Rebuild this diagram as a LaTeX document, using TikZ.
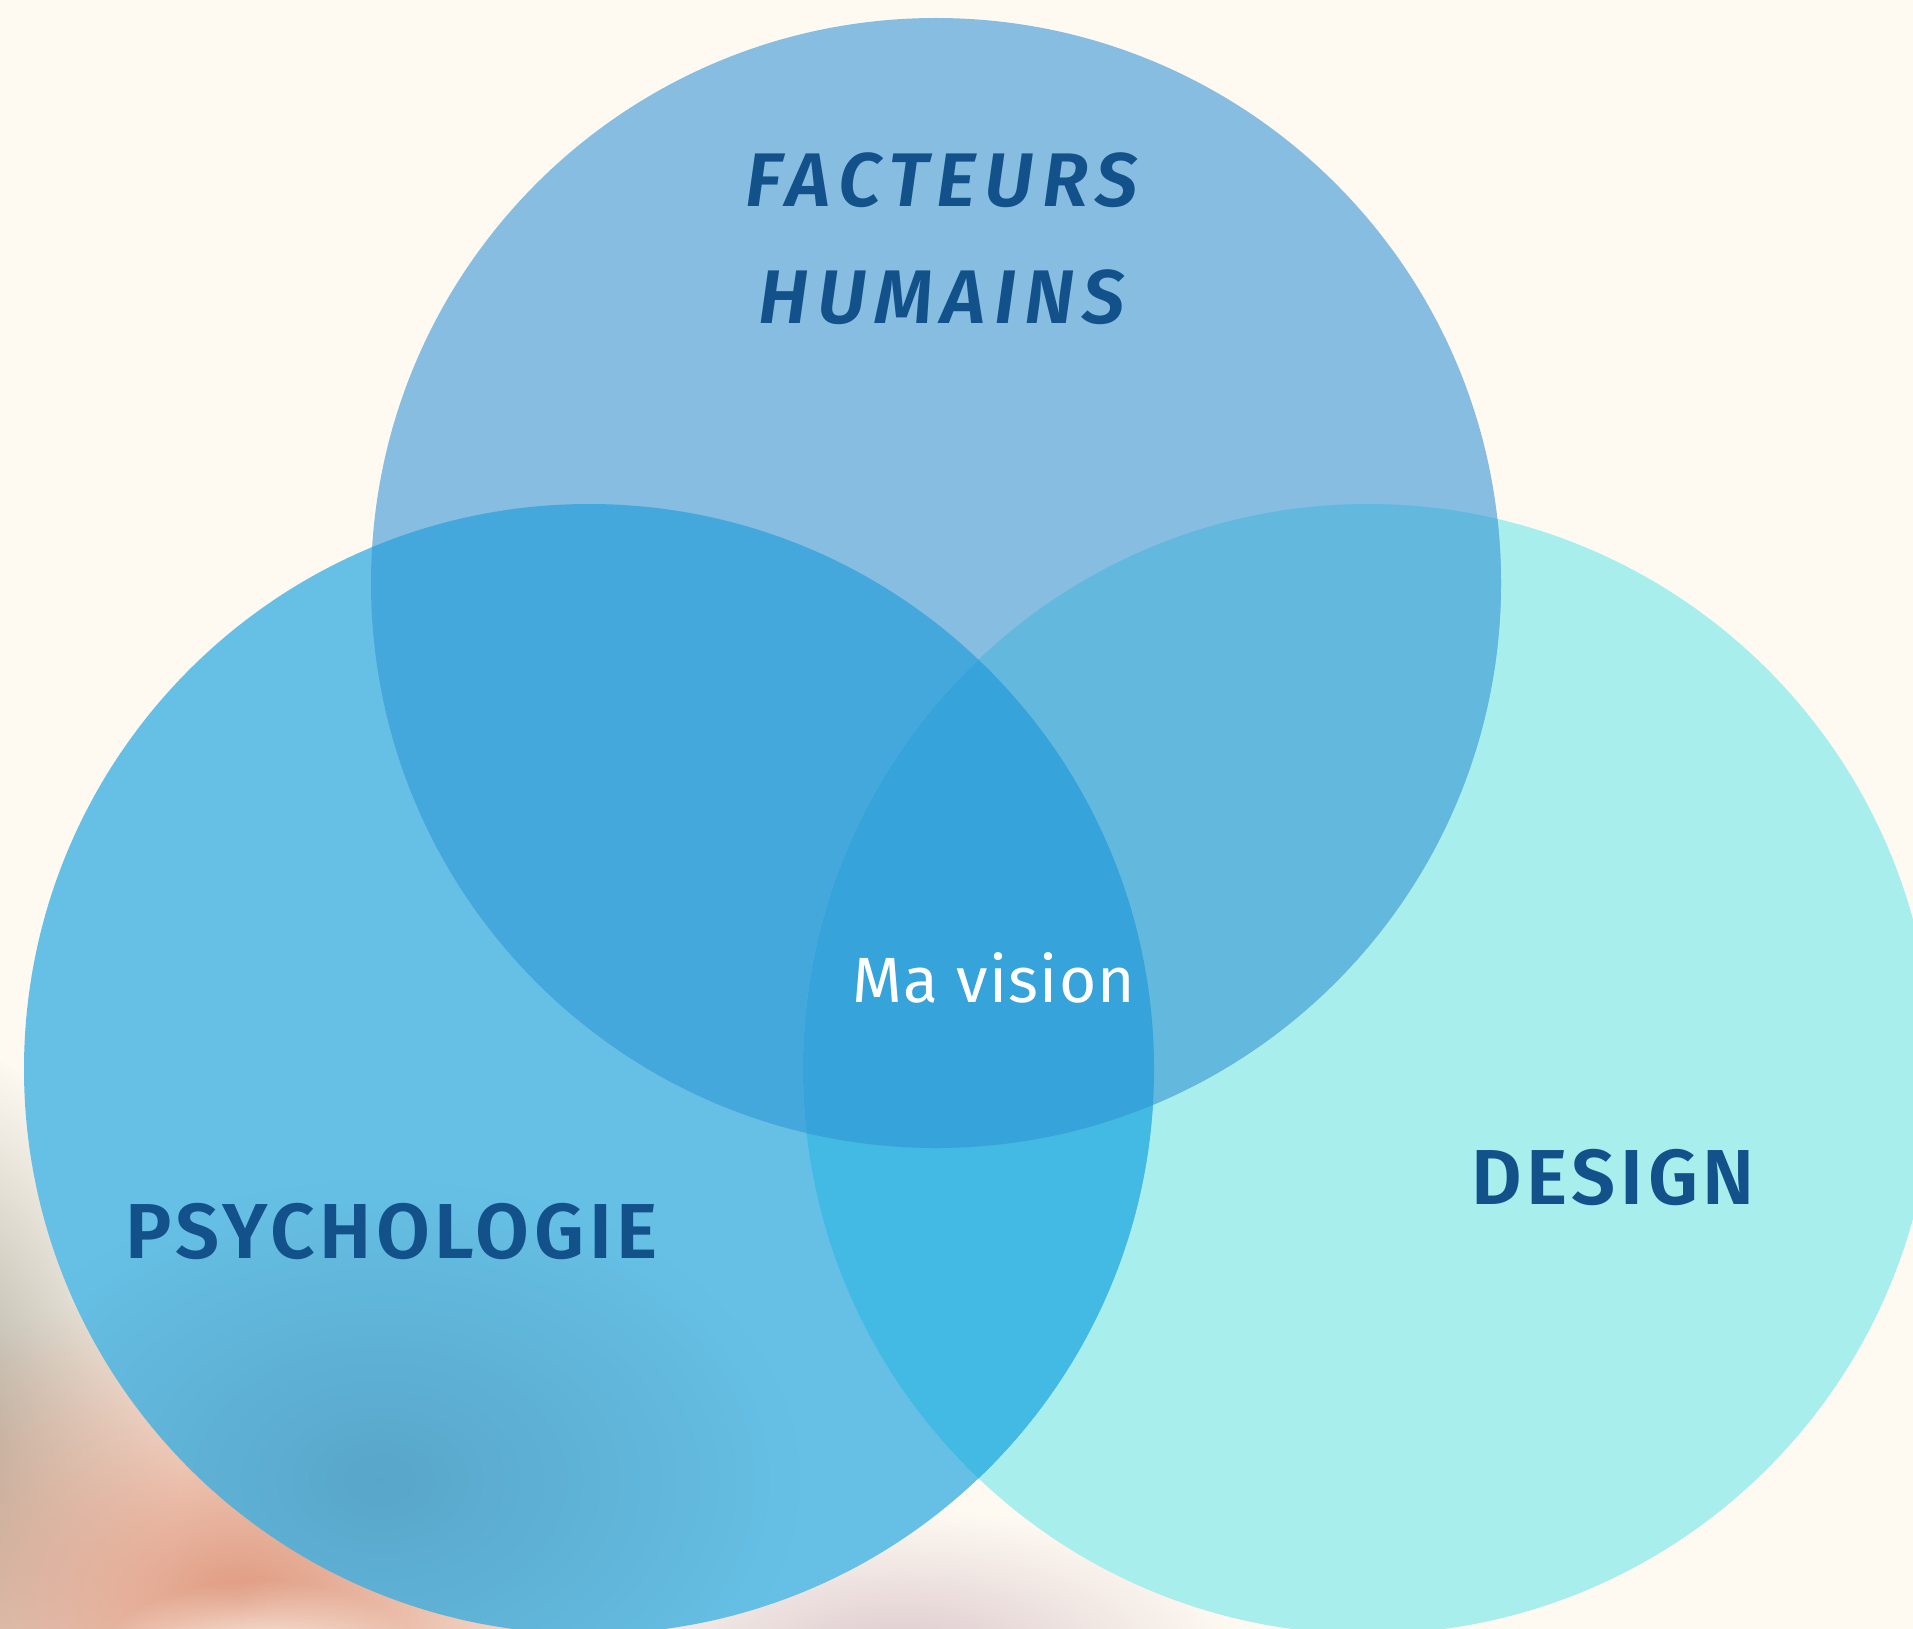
\documentclass[tikz,border=0pt]{standalone}
\usepackage{fontspec}
\setmainfont{Fira Sans}
\IfFontExistsTF{Fira Sans SemiBold}{%
  \newfontfamily\labelfont{Fira Sans}[UprightFont=* SemiBold, ItalicFont=* SemiBold Italic]}{%
  \newfontfamily\labelfont{Fira Sans}[UprightFont=* Bold, ItalicFont=* Bold Italic]}
\usetikzlibrary{fadings}

\definecolor{bgcream}{HTML}{FEFAF2}
\definecolor{humblue}{HTML}{87BDE1}
\definecolor{psyblue}{HTML}{66C0E5}
\definecolor{designcyan}{HTML}{A8EEEC}
\definecolor{psyhum}{HTML}{45A8DC}
\definecolor{humdesign}{HTML}{62B8DD}
\definecolor{psydesign}{HTML}{42BAE3}
\definecolor{allthree}{HTML}{36A3DA}
\definecolor{labelblue}{HTML}{13518A}
\definecolor{blobsalmon}{HTML}{E09A80}
\definecolor{blobgrey}{HTML}{A8A494}
\definecolor{blobpink}{HTML}{DCC8CC}
\definecolor{blobdark}{HTML}{4E92B4}

\tikzfading[name=softblob, inner color=transparent!0, outer color=transparent!100]

\tikzset{
  setlabel/.style={text=labelblue, inner sep=0pt, anchor=base,
    font=\labelfont\fontsize{78}{90}\selectfont\addfontfeatures{LetterSpace=6}},
  setlabelit/.style={setlabel, font=\labelfont\itshape\fontsize{76}{90}\selectfont\addfontfeatures{LetterSpace=11}},
  centrelabel/.style={text=white, inner sep=0pt, anchor=base,
    font=\fontsize{64}{76}\selectfont\addfontfeatures{LetterSpace=2}},
}

\def\humcircle{(936,583) circle [radius=565]}
\def\psycircle{(589,1069) circle [radius=565]}
\def\designcircle{(1368,1069) circle [radius=565]}

\begin{document}
\begin{tikzpicture}[x=1pt,y=-1pt]
\useasboundingbox (0,0) rectangle (1913,1629);
\fill[bgcream] (0,0) rectangle (1913,1629);

% blurred patch bottom left
\fill[blobgrey, path fading=softblob] (-80,1440) ellipse (260 and 400);
\fill[blobsalmon, path fading=softblob] (240,1600) ellipse (440 and 320);
\fill[blobpink, path fading=softblob] (900,1660) ellipse (340 and 150);
\fill[bgcream, path fading=softblob] (260,1670) ellipse (170 and 90);

% the three sets
\fill[designcyan] \designcircle;
\fill[psyblue] \psycircle;
\fill[humblue] \humcircle;

% overlaps
\begin{scope}
  \clip \psycircle;
  \fill[psydesign] \designcircle;
  \fill[blobdark, path fading=softblob, opacity=0.55] (380,1480) ellipse (420 and 300);
\end{scope}
\begin{scope}
  \clip \psycircle;
  \fill[psyhum] \humcircle;
\end{scope}
\begin{scope}
  \clip \designcircle;
  \fill[humdesign] \humcircle;
\end{scope}
\begin{scope}
  \clip \psycircle;
  \clip \designcircle;
  \fill[allthree] \humcircle;
\end{scope}

% labels
\node[setlabelit] (fac) at (942,207) {FACTEURS};
\node[setlabelit] (hum) at (942,323) {HUMAINS};
\node[setlabel] (psy) at (392,1258) {PSYCHOLOGIE};
\node[setlabel] (des) at (1613,1204) {DESIGN};
\node[centrelabel] (vis) at (994,1002) {Ma vision};
\end{tikzpicture}
\end{document}
